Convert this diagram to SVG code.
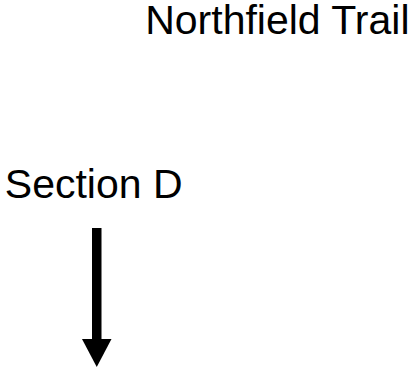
<svg xmlns="http://www.w3.org/2000/svg" width="413" height="376" viewBox="0 0 413 376">
<style>
.t{font-family:"Liberation Sans",Arial,sans-serif;font-size:41px;fill:#000}
</style>
<rect width="413" height="376" fill="#fff"/>
<g id="title"><text class="t" x="145.2" y="33.5">Northfield Trail</text></g>
<g id="section-d"><text class="t" x="4.8" y="197.5">Section D</text></g>
<g id="connectors">
<rect x="92" y="228" width="9.5" height="112" fill="#000"/>
<polygon points="82,339 111.5,339 96.75,367" fill="#000"/>
</g>
</svg>
